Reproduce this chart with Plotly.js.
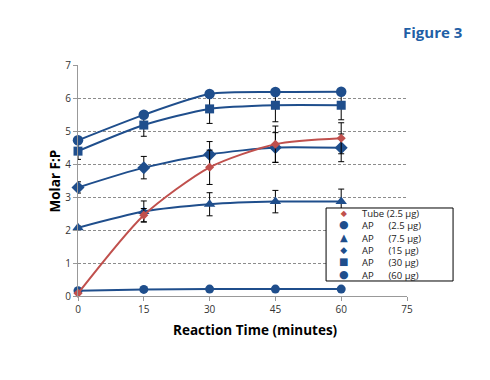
<!DOCTYPE html>
<html>
<head>
<meta charset="utf-8">
<script src="https://cdn.plot.ly/plotly-3.0.1.min.js"></script>
<style>html,body{margin:0;padding:0;background:#fff;}#chart{width:490px;height:380px;}</style>
</head>
<body>
<div id="chart"></div>
<script>
var times = [0, 15, 30, 45, 60];
var xTicks = [0, 15, 30, 45, 60, 75];
var yTicks = [0, 1, 2, 3, 4, 5, 6, 7];

var gap = "\u00a0\u00a0\u00a0\u00a0\u00a0\u00a0";
var seriesNames = ["Tube (2.5 µg)", "AP" + gap + "(2.5 µg)", "AP" + gap + "(7.5 µg)", "AP" + gap + "(15 µg)", "AP" + gap + "(30 µg)", "AP" + gap + "(60 µg)"];

var tube25 = [0.08, 2.45, 3.9, 4.6, 4.78];
var ap25   = [0.16, 0.2, 0.21, 0.21, 0.21];
var ap75   = [2.07, 2.56, 2.78, 2.86, 2.86];
var ap15   = [3.29, 3.89, 4.29, 4.5, 4.49];
var ap30   = [4.39, 5.18, 5.67, 5.78, 5.78];
var ap60   = [4.72, 5.49, 6.12, 6.18, 6.19];

var tube25Err = [0, 0.2, 0.52, 0.55, 0.47];
var ap25Err   = [0, 0, 0, 0, 0];
var ap75Err   = [0.05, 0.32, 0.35, 0.34, 0.38];
var ap15Err   = [0.17, 0.34, 0.39, 0.45, 0.42];
var ap30Err   = [0.25, 0.34, 0.44, 0.5, 0.44];
var ap60Err   = [0, 0, 0, 0, 0];

var xTitle = "Reaction Time (minutes)";
var yTitle = "Molar F:P";
var figLabel = "Figure 3";

var blue = "#1f4e8c";
var red = "#c0504d";

var styles = [
  {color: red,  symbol: "diamond",       size: 7,  glyph: "◆", gsize: 8},
  {color: blue, symbol: "circle",        size: 9,  glyph: "●", gsize: 11},
  {color: blue, symbol: "triangle-up",   size: 10, glyph: "▲", gsize: 10},
  {color: blue, symbol: "diamond",       size: 10, glyph: "◆", gsize: 9},
  {color: blue, symbol: "square",        size: 9,  glyph: "■", gsize: 10},
  {color: blue, symbol: "circle",        size: 10.5, glyph: "●", gsize: 11}
];
var values = [tube25, ap25, ap75, ap15, ap30, ap60];
var errs = [tube25Err, ap25Err, ap75Err, ap15Err, ap30Err, ap60Err];

var traces = values.map(function (v, i) {
  var s = styles[i];
  return {
    x: times, y: v, name: seriesNames[i], type: "scatter", mode: "lines+markers",
    line: {color: s.color, width: 2, shape: "spline", smoothing: 0.7},
    marker: {color: s.color, symbol: s.symbol, size: s.size},
    error_y: {type: "data", array: errs[i], visible: true, color: "#000", thickness: 1, width: 3},
    cliponaxis: false, showlegend: false
  };
});
var order = [1, 2, 3, 4, 5, 0];
var data = order.map(function (i) { return traces[i]; });

var font = "Open Sans, Lato, sans-serif";

var legMarkers = styles.map(function (s) {
  return "<span style='color:" + s.color + ";font-size:" + s.gsize + "px'>" + s.glyph + "</span>";
}).join("<br>");
var legText = seriesNames.join("<br>");

var layout = {
  width: 490, height: 380,
  margin: {l: 78, r: 82.5, t: 65, b: 83.7},
  paper_bgcolor: "#fff", plot_bgcolor: "#fff",
  font: {family: font, size: 10, color: "#333"},
  xaxis: {
    range: [0, 75], tickvals: xTicks, ticktext: xTicks.map(String),
    showgrid: false, zeroline: false, showline: true, linecolor: "#999", linewidth: 1,
    ticks: "outside", ticklen: 4, tickcolor: "#999",
    tickfont: {family: font, size: 10, color: "#333"},
    fixedrange: true
  },
  yaxis: {
    range: [0, 7], tickvals: yTicks, ticktext: yTicks.map(String),
    showgrid: true, gridcolor: "#8c8c8c", griddash: "3px,2px", gridwidth: 1,
    zeroline: false, showline: true, linecolor: "#999", linewidth: 1,
    ticks: "outside", ticklen: 4, tickcolor: "#999",
    tickfont: {family: font, size: 10, color: "#333"},
    fixedrange: true
  },
  shapes: [{
    type: "rect", xref: "paper", yref: "paper", layer: "above",
    x0: 0.754, x1: 1.14, y0: 0.065, y1: 0.381,
    line: {color: "#000", width: 1}, fillcolor: "#fff"
  }],
  annotations: [
    {xref: "paper", yref: "paper", x: 0.8085, y: 0.221, xanchor: "center", yanchor: "middle",
     text: legMarkers, showarrow: false, align: "center", font: {family: "DejaVu Sans", size: 9.5}},
    {xref: "paper", yref: "paper", x: 0.858, y: 0.221, xanchor: "left", yanchor: "middle",
     text: legText, showarrow: false, align: "left", font: {family: font, size: 9.5, color: "#222"}},
    {xref: "paper", yref: "paper", x: 1.076, y: 1.143, xanchor: "center", yanchor: "middle",
     text: "<b>" + figLabel + "</b>", showarrow: false, font: {family: font, size: 15, color: "#1f5fa6"}},
    {xref: "paper", yref: "paper", x: 0.538, y: -0.147, xanchor: "center", yanchor: "middle",
     text: "<b>" + xTitle + "</b>", showarrow: false, font: {family: font, size: 13.5, color: "#000"}},
    {xref: "paper", yref: "paper", x: -0.07, y: 0.5, xanchor: "center", yanchor: "middle", textangle: -90,
     text: "<b>" + yTitle + "</b>", showarrow: false, font: {family: font, size: 13.5, color: "#000"}}
  ]
};

Plotly.newPlot("chart", data, layout, {displayModeBar: false, staticPlot: true});
</script>
</body>
</html>
